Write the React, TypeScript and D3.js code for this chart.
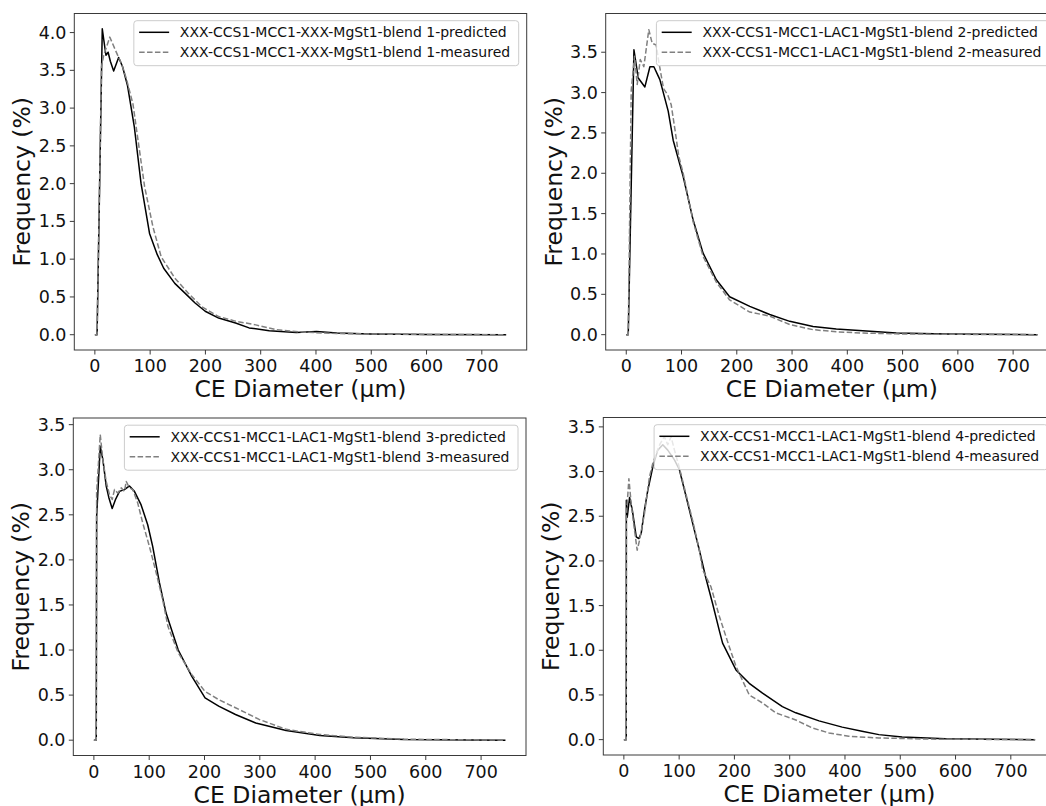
import React, { useEffect, useRef } from "react";
import * as d3 from "d3";

type Pt = [number, number];

// ---------- data ----------
const xTicks = [0, 100, 200, 300, 400, 500, 600, 700];
const yTicksBlend1 = [0, 0.5, 1, 1.5, 2, 2.5, 3, 3.5, 4];
const yTicksOther = [0, 0.5, 1, 1.5, 2, 2.5, 3, 3.5];

const xAxisLabel = "CE Diameter (µm)";
const yAxisLabel = "Frequency (%)";

const blend1Predicted: Pt[] = [
  [0, 0], [4, 0], [13.4, 4.05], [20, 3.7], [24, 3.74], [28, 3.62], [34, 3.49], [43, 3.67], [50, 3.55],
  [59, 3.3], [71.4, 2.75], [83.6, 2.0], [98.9, 1.34], [112.9, 1.06], [124.5, 0.88], [144.6, 0.68],
  [163, 0.55], [181.3, 0.42], [199.6, 0.31], [224, 0.22], [254.5, 0.155], [279, 0.09], [315.5, 0.053],
  [364.4, 0.03], [401, 0.044], [437.6, 0.022], [498.6, 0.01], [600, 0.004], [744, 0],
];
const blend1Measured: Pt[] = [
  [0, 0], [4, 0], [12, 3.55], [16, 3.7], [27, 3.94], [37, 3.77], [48, 3.59], [57, 3.39], [69, 3.05],
  [78, 2.58], [90, 1.96], [105, 1.43], [120, 1.03], [144.6, 0.75], [169, 0.55], [193.5, 0.37],
  [224, 0.24], [254, 0.18], [291, 0.13], [328, 0.066], [376, 0.035], [437, 0.015], [520, 0.008],
  [620, 0.003], [744, 0],
];

const blend2Predicted: Pt[] = [
  [0, 0], [3.6, 0], [13.9, 3.53], [21.7, 3.18], [33.7, 3.07], [42.8, 3.32], [50, 3.32], [60.8, 3.16],
  [75.9, 2.77], [84.9, 2.41], [103, 1.96], [121, 1.42], [139, 1.01], [163, 0.68], [187, 0.47],
  [223.5, 0.35], [259.6, 0.25], [295.8, 0.165], [338, 0.1], [380, 0.07], [428, 0.05], [488.5, 0.022],
  [579, 0.008], [744, 0],
];
const blend2Measured: Pt[] = [
  [0, 0], [3.6, 0], [9, 3.03], [15, 3.45], [19.8, 3.1], [25.3, 3.41], [31.8, 3.32], [40.8, 3.78],
  [46.9, 3.61], [54.2, 3.59], [58.9, 3.38], [67.4, 3.05], [75.2, 2.97], [81.3, 2.85], [89, 2.5],
  [95, 2.21], [103, 2.0], [121, 1.4], [139, 0.97], [163, 0.65], [187, 0.43], [223.5, 0.28],
  [259.6, 0.23], [295.8, 0.125], [338, 0.062], [380, 0.035], [428, 0.02], [488, 0.01], [600, 0.004],
  [744, 0],
];

const blend3Predicted: Pt[] = [
  [0, 0], [4.3, 0], [5, 2.48], [11.5, 3.26], [16.3, 3.11], [22.3, 2.82], [27.1, 2.69], [33.1, 2.57],
  [39.1, 2.67], [46.3, 2.76], [55.3, 2.78], [64.3, 2.82], [73.3, 2.76], [85.4, 2.61], [97.3, 2.39],
  [106.3, 2.15], [118.4, 1.75], [130.5, 1.41], [152.5, 1.0], [176.8, 0.71], [201, 0.47],
  [225.6, 0.377], [256, 0.285], [292.7, 0.19], [347.6, 0.107], [408.6, 0.052], [469.5, 0.026],
  [561, 0.008], [744, 0],
];
const blend3Measured: Pt[] = [
  [0, 0], [4.3, 0], [5, 2.75], [11.5, 3.39], [16.3, 3.11], [22.3, 2.87], [28.3, 2.72], [33.1, 2.67],
  [37.3, 2.78], [43.3, 2.74], [49.4, 2.8], [55.3, 2.76], [58.4, 2.87], [64.3, 2.8], [70.3, 2.78],
  [79.3, 2.63], [88.3, 2.41], [100.4, 2.15], [112.5, 1.86], [124.3, 1.56], [134, 1.26], [152.5, 0.97],
  [176.8, 0.73], [201, 0.54], [225.6, 0.45], [256, 0.36], [298.8, 0.23], [347.6, 0.12], [408.6, 0.063],
  [469.5, 0.033], [561, 0.011], [744, 0],
];

const blend4Predicted: Pt[] = [
  [0, 0], [4.3, 0], [4.5, 2.68], [6.1, 2.49], [10.3, 2.71], [15.2, 2.57], [22.4, 2.27], [27.1, 2.25],
  [31.4, 2.31], [37.3, 2.57], [43.3, 2.79], [52.3, 3.05], [61.3, 3.24], [70.4, 3.3], [79.4, 3.24],
  [91.5, 3.13], [100.5, 3.02], [112.6, 2.72], [124.5, 2.42], [136.6, 2.12], [148.7, 1.8], [160.6, 1.52],
  [172.7, 1.22], [178.6, 1.08], [202.8, 0.78], [226.8, 0.63], [250.8, 0.52], [286.8, 0.37], [311, 0.3],
  [353, 0.21], [395, 0.14], [430.8, 0.093], [461.3, 0.056], [503.3, 0.03], [581.6, 0.011], [744, 0],
];
const blend4Measured: Pt[] = [
  [0, 0], [4.3, 0], [4.6, 2.5], [9.1, 2.92], [13.3, 2.64], [18, 2.4], [24.1, 2.12], [28.3, 2.23],
  [37.3, 2.53], [46.3, 2.94], [52.3, 3.09], [58.3, 3.2], [65.5, 3.31], [73.3, 3.39], [79.4, 3.3],
  [85.4, 3.39], [91.5, 3.24], [100.5, 3.04], [112.6, 2.74], [124.5, 2.45], [136.6, 2.12], [142.6, 1.9],
  [157.6, 1.71], [172.7, 1.38], [190.7, 1.04], [202.8, 0.82], [226.8, 0.5], [250.8, 0.41], [274.8, 0.3],
  [311, 0.22], [341, 0.13], [371, 0.075], [407, 0.037], [461, 0.019], [551, 0.006], [744, 0],
];

const legend1 = ["XXX-CCS1-MCC1-XXX-MgSt1-blend 1-predicted", "XXX-CCS1-MCC1-XXX-MgSt1-blend 1-measured"];
const legend2 = ["XXX-CCS1-MCC1-LAC1-MgSt1-blend 2-predicted", "XXX-CCS1-MCC1-LAC1-MgSt1-blend 2-measured"];
const legend3 = ["XXX-CCS1-MCC1-LAC1-MgSt1-blend 3-predicted", "XXX-CCS1-MCC1-LAC1-MgSt1-blend 3-measured"];
const legend4 = ["XXX-CCS1-MCC1-LAC1-MgSt1-blend 4-predicted", "XXX-CCS1-MCC1-LAC1-MgSt1-blend 4-measured"];

// ---------- layout ----------
const W = 1046;
const H = 806;
const FONT = "'DejaVu Sans', sans-serif";
const X_DOMAIN: [number, number] = [-37.2, 781.2];

const panels = [
  { left: 74.3, top: 13.5, right: 526.7, bottom: 350, yDomain: [-0.2025, 4.2525], yTicks: yTicksBlend1, pred: blend1Predicted, meas: blend1Measured, labels: legend1 },
  { left: 605.7, top: 13.5, right: 1058, bottom: 350, yDomain: [-0.19, 3.98], yTicks: yTicksOther, pred: blend2Predicted, meas: blend2Measured, labels: legend2 },
  { left: 73.3, top: 418, right: 526, bottom: 755.5, yDomain: [-0.17, 3.574], yTicks: yTicksOther, pred: blend3Predicted, meas: blend3Measured, labels: legend3 },
  { left: 603.3, top: 417.5, right: 1055.7, bottom: 755, yDomain: [-0.172, 3.605], yTicks: yTicksOther, pred: blend4Predicted, meas: blend4Measured, labels: legend4 },
];

export default function App() {
  const ref = useRef<SVGSVGElement>(null);

  useEffect(() => {
    const svg = d3.select(ref.current);
    svg.selectAll("*").remove();
    svg.append("rect").attr("width", W).attr("height", H).attr("fill", "#ffffff");

    const spine = "#3a3a3a";

    panels.forEach((p) => {
      const x = d3.scaleLinear().domain(X_DOMAIN).range([p.left, p.right]);
      const y = d3.scaleLinear().domain(p.yDomain).range([p.bottom, p.top]);
      const g = svg.append("g");
      const line = d3.line<Pt>().x((d) => x(d[0])).y((d) => y(d[1]));

      g.append("path")
        .attr("d", line(p.pred) as string)
        .attr("fill", "none")
        .attr("stroke", "#000000")
        .attr("stroke-width", 1.5)
        .attr("stroke-linejoin", "round");
      g.append("path")
        .attr("d", line(p.meas) as string)
        .attr("fill", "none")
        .attr("stroke", "#808080")
        .attr("stroke-width", 1.5)
        .attr("stroke-dasharray", "5.5,2.4")
        .attr("stroke-linejoin", "round");

      // spines
      g.append("rect")
        .attr("x", p.left)
        .attr("y", p.top)
        .attr("width", p.right - p.left)
        .attr("height", p.bottom - p.top)
        .attr("fill", "none")
        .attr("stroke", spine)
        .attr("stroke-width", 1);

      // x ticks
      xTicks.forEach((t) => {
        const xp = x(t);
        g.append("line").attr("x1", xp).attr("x2", xp).attr("y1", p.bottom).attr("y2", p.bottom + 4.5).attr("stroke", spine).attr("stroke-width", 1);
        g.append("text")
          .attr("x", xp)
          .attr("y", p.bottom + 16)
          .attr("text-anchor", "middle")
          .attr("dominant-baseline", "central")
          .attr("font-family", FONT)
          .attr("font-size", 17.5)
          .attr("fill", "#111")
          .text(String(t));
      });

      // y ticks
      p.yTicks.forEach((t) => {
        const yp = y(t);
        g.append("line").attr("x1", p.left - 4.5).attr("x2", p.left).attr("y1", yp).attr("y2", yp).attr("stroke", spine).attr("stroke-width", 1);
        g.append("text")
          .attr("x", p.left - 7.8)
          .attr("y", yp)
          .attr("text-anchor", "end")
          .attr("dominant-baseline", "central")
          .attr("font-family", FONT)
          .attr("font-size", 17.5)
          .attr("fill", "#111")
          .text(t.toFixed(1));
      });

      // axis labels
      g.append("text")
        .attr("x", (p.left + p.right) / 2)
        .attr("y", p.bottom + 39)
        .attr("text-anchor", "middle")
        .attr("dominant-baseline", "central")
        .attr("font-family", FONT)
        .attr("font-size", 23.5)
        .attr("fill", "#111")
        .text(xAxisLabel);
      const cy = (p.top + p.bottom) / 2;
      const cx = p.left - 52;
      g.append("text")
        .attr("transform", `translate(${cx},${cy}) rotate(-90)`)
        .attr("text-anchor", "middle")
        .attr("dominant-baseline", "central")
        .attr("font-family", FONT)
        .attr("font-size", 23.5)
        .attr("fill", "#111")
        .text(yAxisLabel);

      // legend
      const lg = g.append("g");
      const frame = lg.append("rect");
      const texts = p.labels.map((lab) =>
        lg.append("text")
          .attr("font-family", FONT)
          .attr("font-size", 14)
          .attr("fill", "#111")
          .attr("dominant-baseline", "central")
          .text(lab)
      );
      const tw = Math.max(...texts.map((t) => (t.node() as SVGTextElement).getComputedTextLength()));
      const boxRight = p.right - 8;
      const boxW = 46 + tw + 8.5;
      const boxLeft = boxRight - boxW;
      const boxTop = p.top + 7.2;
      const boxH = 45;
      frame
        .attr("x", boxLeft)
        .attr("y", boxTop)
        .attr("width", boxW)
        .attr("height", boxH)
        .attr("rx", 3)
        .attr("fill", "#ffffff")
        .attr("fill-opacity", 0.8)
        .attr("stroke", "#cccccc")
        .attr("stroke-width", 1);
      const rows = [boxTop + 11.6, boxTop + 31.6];
      texts.forEach((t, i) => t.attr("x", boxLeft + 46).attr("y", rows[i]));
      lg.append("line")
        .attr("x1", boxLeft + 5.3).attr("x2", boxLeft + 35.3)
        .attr("y1", rows[0]).attr("y2", rows[0])
        .attr("stroke", "#000").attr("stroke-width", 1.5);
      lg.append("line")
        .attr("x1", boxLeft + 5.3).attr("x2", boxLeft + 35.3)
        .attr("y1", rows[1]).attr("y2", rows[1])
        .attr("stroke", "#808080").attr("stroke-width", 1.5)
        .attr("stroke-dasharray", "5.5,2.4");
    });
  }, []);

  return (
    <svg
      ref={ref}
      width={W}
      height={H}
      style={{ position: "absolute", left: 0, top: 0, display: "block" }}
    />
  );
}
